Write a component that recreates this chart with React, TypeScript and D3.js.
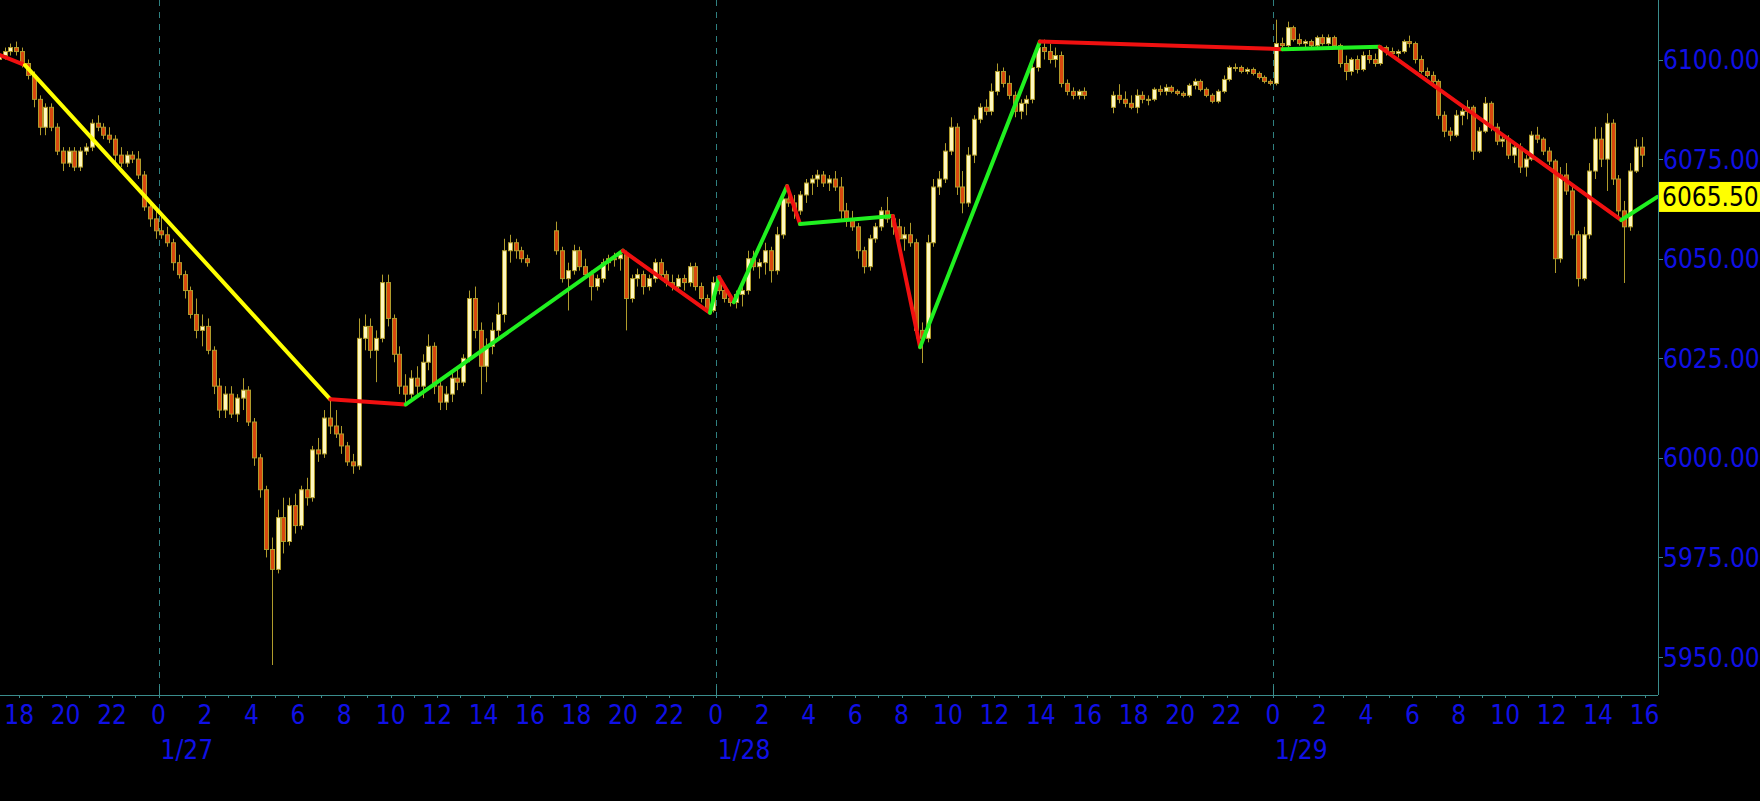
import React from 'react';
import * as d3 from 'd3';

type Bar = [number, number, number, number]; // open, high, low, close

// 15-minute bars, one array per trading session (CME hours, 17:00 - 16:00)
const sessionStarts = [
  new Date(2025, 0, 26, 17, 0),
  new Date(2025, 0, 27, 17, 0),
  new Date(2025, 0, 28, 17, 0),
];

const session1: Bar[] = [
  [6100, 6102, 6099, 6101], [6101, 6103, 6100, 6102], [6102, 6104, 6101, 6103], [6103, 6104.5, 6101, 6102],
  [6102, 6103, 6098, 6099], [6099, 6100, 6095, 6096], [6096, 6097, 6088, 6090], [6090, 6091, 6081, 6083],
  [6083, 6089, 6081, 6088], [6088, 6089, 6082, 6083], [6083, 6084, 6076, 6077], [6077, 6078, 6072, 6074],
  [6074, 6078, 6073, 6077], [6077, 6078, 6072, 6073], [6073, 6078, 6072, 6077], [6077, 6079, 6076, 6078],
  [6078, 6085, 6077, 6084], [6084, 6086, 6082, 6083], [6083, 6084, 6080, 6081], [6081, 6083, 6079, 6080],
  [6080, 6081, 6074, 6076], [6076, 6078, 6073, 6074], [6074, 6077, 6073, 6076], [6076, 6077, 6074, 6075],
  [6075, 6077, 6070, 6071], [6071, 6072, 6062, 6063], [6063, 6064, 6058, 6060], [6060, 6062, 6055, 6057],
  [6057, 6061, 6055, 6056], [6056, 6058, 6053, 6054], [6054, 6055, 6047, 6049], [6049, 6051, 6045, 6046],
  [6046, 6047, 6040, 6042], [6042, 6043, 6035, 6036], [6036, 6040, 6030, 6032], [6032, 6036, 6028, 6033],
  [6033, 6035, 6026, 6027], [6027, 6028, 6016, 6018], [6018, 6020, 6010, 6012], [6012, 6018, 6010, 6016],
  [6016, 6018, 6010, 6011], [6011, 6016, 6009, 6015], [6015, 6020, 6012, 6017], [6017, 6018, 6008, 6009],
  [6009, 6010, 5998, 6000], [6000, 6001, 5990, 5992], [5992, 5993, 5975, 5977], [5977, 5980, 5948, 5972],
  [5972, 5987, 5971, 5985], [5985, 5990, 5976, 5979], [5979, 5990, 5978, 5988], [5988, 5991, 5981, 5983],
  [5983, 5993, 5982, 5992], [5992, 5995, 5988, 5990], [5990, 6003, 5989, 6002], [6002, 6005, 5999, 6001],
  [6001, 6012, 6000, 6010], [6010, 6014.5, 6006, 6008], [6008, 6012, 6005, 6006], [6006, 6008, 6001, 6003],
  [6003, 6004, 5998, 5999], [5999, 6001, 5996, 5998], [5998, 6035, 5997, 6030], [6030, 6036, 6027, 6033],
  [6033, 6035, 6025, 6027], [6027, 6032, 6019, 6030], [6030, 6046, 6029, 6044], [6044, 6046, 6033, 6035],
  [6035, 6036, 6024, 6026], [6026, 6028, 6016, 6018], [6018, 6021, 6013.5, 6016], [6016, 6022, 6015, 6020],
  [6020, 6023, 6016, 6018], [6018, 6026, 6015, 6024], [6024, 6031, 6022, 6028], [6028, 6029, 6016, 6018],
  [6018, 6019, 6012, 6014], [6014, 6018, 6012, 6016], [6016, 6022, 6014, 6020], [6020, 6023, 6017, 6019],
  [6019, 6026, 6018, 6025], [6025, 6042, 6024, 6040], [6040, 6043, 6030, 6032], [6032, 6034, 6016, 6023],
  [6023, 6030, 6019, 6028], [6028, 6034, 6026, 6032], [6032, 6039, 6030, 6036], [6036, 6055, 6034, 6052],
  [6052, 6056, 6049, 6054], [6054, 6055, 6050, 6052], [6052, 6053, 6049, 6050], [6050, 6051, 6048, 6049],
];

const session2: Bar[] = [
  [6057, 6059.3, 6051, 6052], [6052, 6053, 6044, 6045], [6045, 6049, 6037, 6047], [6047, 6053.5, 6046, 6052],
  [6052, 6053, 6047, 6048], [6048, 6050, 6045, 6046], [6046, 6047, 6039.5, 6043], [6043, 6046, 6042, 6045],
  [6045, 6050, 6044, 6049], [6049, 6051, 6047, 6050], [6050, 6051.5, 6048, 6050], [6050, 6052, 6047, 6051],
  [6051, 6052, 6032, 6040], [6040, 6046, 6039, 6045], [6045, 6047.5, 6043, 6046], [6046, 6047, 6041, 6043],
  [6043, 6046, 6042, 6045], [6045, 6050, 6044, 6049], [6049, 6050, 6045, 6046], [6046, 6047, 6043, 6044],
  [6044, 6046, 6042, 6043], [6043, 6046, 6042, 6045], [6045, 6046, 6042, 6044], [6044, 6049, 6043, 6048],
  [6048, 6049, 6042, 6043], [6043, 6044, 6039, 6040], [6040, 6041, 6036.5, 6037], [6037, 6045.5, 6036.5, 6044],
  [6044, 6045, 6041, 6042], [6042, 6043, 6039, 6040], [6040, 6041, 6038, 6039], [6039, 6042, 6037.5, 6041],
  [6041, 6043, 6038, 6042], [6042, 6052, 6041, 6050], [6050, 6052, 6047, 6048], [6048, 6050, 6045, 6049],
  [6049, 6054, 6046, 6052], [6052, 6053, 6044, 6047], [6047, 6058, 6046, 6056], [6056, 6067, 6055, 6065],
  [6065, 6068, 6063, 6064], [6064, 6066, 6060, 6062], [6062, 6067, 6061, 6066], [6066, 6070, 6064, 6069],
  [6069, 6071, 6066, 6070], [6070, 6072.3, 6068, 6071], [6071, 6072, 6068, 6069], [6069, 6071, 6067, 6070],
  [6070, 6072, 6067, 6068], [6068, 6070.5, 6060, 6062], [6062, 6064, 6058, 6060], [6060, 6062, 6057, 6058],
  [6058, 6059, 6050, 6052], [6052, 6053, 6046.3, 6048], [6048, 6056, 6047, 6055], [6055, 6059, 6054, 6058],
  [6058, 6063, 6057, 6062], [6062, 6065.5, 6059, 6060], [6060, 6061, 6056, 6058], [6058, 6060, 6053, 6055],
  [6055, 6058, 6052, 6056], [6056, 6059, 6053, 6054], [6054, 6055, 6030, 6032], [6032, 6034, 6023.8, 6030],
  [6030, 6056, 6029, 6054], [6054, 6070, 6053, 6068], [6068, 6072, 6066, 6070], [6070, 6079, 6069, 6077],
  [6077, 6085.5, 6076, 6083], [6083, 6084, 6066, 6068], [6068, 6072, 6061.4, 6064], [6064, 6078, 6063, 6076],
  [6076, 6086, 6074, 6085], [6085, 6089, 6084, 6088], [6088, 6090, 6086, 6087], [6087, 6094, 6086, 6092],
  [6092, 6099, 6091, 6097], [6097, 6098, 6093, 6094], [6094, 6096, 6090, 6091], [6091, 6092, 6085.5, 6087],
  [6087, 6090, 6085, 6089], [6089, 6091, 6086, 6090], [6090, 6099, 6089, 6098], [6098, 6104.5, 6097, 6103],
  [6103, 6105, 6100, 6102], [6102, 6104, 6099, 6100], [6100, 6103, 6098, 6101], [6101, 6102, 6093, 6094],
  [6094, 6095, 6091, 6092], [6092, 6093, 6090, 6091], [6091, 6092.5, 6090, 6092], [6092, 6093, 6090, 6091],
];

const session3: Bar[] = [
  [6088, 6092, 6086.5, 6091], [6091, 6093.8, 6089, 6090], [6090, 6092, 6088, 6089], [6089, 6091, 6087.5, 6088],
  [6088, 6092.5, 6086.5, 6091], [6091, 6092, 6089, 6090], [6090, 6091, 6088.5, 6090], [6090, 6093, 6089.5, 6092.5],
  [6092.5, 6093.5, 6091, 6092], [6092, 6093.8, 6091, 6093], [6093, 6093.5, 6091.5, 6092], [6092, 6092.5, 6091, 6091.5],
  [6091.5, 6092, 6090.5, 6091], [6091, 6094, 6090.5, 6093.5], [6093.5, 6095.2, 6092.5, 6094.5], [6094.5, 6095, 6092, 6092.5],
  [6092.5, 6093, 6090.5, 6091], [6091, 6091.5, 6089, 6089.5], [6089.5, 6092.5, 6089, 6092], [6092, 6096, 6091.5, 6095],
  [6095, 6098.5, 6094.5, 6098], [6098, 6099, 6097, 6098], [6098, 6098.5, 6096.5, 6097], [6097, 6098, 6096.3, 6097.5],
  [6097.5, 6098, 6096, 6096.5], [6096.5, 6097, 6095, 6095.5], [6095.5, 6096, 6094, 6094.5], [6094.5, 6095, 6093.5, 6094],
  [6094, 6110, 6093.5, 6104], [6104, 6105.5, 6102.5, 6103.5], [6103.5, 6109.5, 6103, 6108], [6108, 6108.5, 6104.5, 6105],
  [6105, 6106.5, 6103.5, 6104], [6104, 6105, 6103, 6104.5], [6104.5, 6105, 6103, 6103.5], [6103.5, 6106, 6103, 6105.5],
  [6105.5, 6106.3, 6103.5, 6104], [6104, 6106.3, 6103.5, 6105.5], [6105.5, 6106, 6103, 6103.5], [6103.5, 6104, 6098, 6099],
  [6099, 6101, 6094.8, 6097], [6097, 6100.5, 6096, 6100], [6100, 6101, 6096.5, 6097.5], [6097.5, 6102, 6097, 6101],
  [6101, 6102.4, 6099, 6100], [6100, 6101.5, 6098.2, 6099], [6099, 6103.6, 6098.5, 6103], [6103, 6103.5, 6101, 6102],
  [6102, 6103, 6100.7, 6101.5], [6101.5, 6102.5, 6100.5, 6102], [6102, 6105, 6101.5, 6104.5], [6104.5, 6106, 6103, 6104],
  [6104, 6104.5, 6099, 6100], [6100, 6101, 6096.5, 6097], [6097, 6098, 6095.5, 6096], [6096, 6097, 6094, 6094.5],
  [6094.5, 6095, 6085, 6086], [6086, 6087, 6080.5, 6082], [6082, 6083, 6079.5, 6081], [6081, 6087.3, 6080.5, 6086],
  [6086, 6088, 6083.5, 6087], [6087, 6089.8, 6085, 6088], [6088, 6088.5, 6074.8, 6077], [6077, 6083, 6076.5, 6082],
  [6082, 6090.6, 6081.5, 6089], [6089, 6089.5, 6082, 6083], [6083, 6084, 6078.5, 6079.5], [6079.5, 6081.5, 6078, 6080],
  [6080, 6081, 6075, 6076], [6076, 6079, 6074, 6078], [6078, 6079, 6071.5, 6073], [6073, 6076, 6070.6, 6075],
  [6075, 6082, 6074.5, 6081], [6081, 6083.1, 6079, 6080], [6080, 6080.5, 6076, 6077], [6077, 6078, 6073.5, 6074.5],
  [6074.5, 6075, 6046.4, 6050], [6050, 6073, 6049, 6071], [6071, 6074, 6066, 6067], [6067, 6068, 6055, 6056],
  [6056, 6057, 6043, 6045], [6045, 6058, 6044.5, 6056], [6056, 6074, 6055, 6072], [6072, 6083.1, 6070, 6080],
  [6080, 6083, 6073, 6075], [6075, 6086.5, 6067, 6084], [6084, 6085, 6068.5, 6070], [6070, 6071, 6059.7, 6062],
  [6062, 6064.5, 6043.9, 6058], [6058, 6074, 6057, 6072], [6072, 6080, 6071.5, 6078], [6078, 6080.5, 6073, 6076],
];

const sessions = [session1, session2, session3];

// zigzag swing points: hours from 1/27 00:00 and price
const zigHours = [-7, -5.75, 7.4, 10.65, 20.0, 23.75, 24.14, 24.78, 27.07, 27.63, 31.63, 32.8, 37.96, 48.41, 52.6, 63.0, 64.55];
const zigPrices = [6101.5, 6098.6, 6014.7, 6013.4, 6052.0, 6036.4, 6045.4, 6039.1, 6068.2, 6058.7, 6060.7, 6027.8, 6104.5, 6102.6, 6103.2, 6059.7, 6065.5];
const zigColors = ['#f01010', '#ffff00', '#f01010', '#20f020', '#f01010', '#20f020', '#f01010', '#20f020',
  '#f01010', '#20f020', '#f01010', '#20f020', '#f01010', '#20f020', '#f01010', '#20f020'];

const priceTicks = [5950, 5975, 6000, 6025, 6050, 6075, 6100];
const lastPrice = 6065.5;

const W = 1760;
const H = 801;
const plotRight = 1658;
const plotBottom = 695;
const HOUR = 3600 * 1000;
const dayZero = new Date(2025, 0, 27, 0, 0);

const axisColor = '#3a8c8c';
const labelColor = '#1010e6';
const font = "'DejaVu Sans Condensed', 'DejaVu Sans', sans-serif";

export default function App() {
  const x = d3.scaleTime()
    .domain([new Date(2025, 0, 26, 17, 10, 24), new Date(2025, 0, 29, 16, 34, 48)])
    .range([0, plotRight]);
  const y = d3.scaleLinear().domain([5940.47, 6114.94]).range([plotBottom, 0]);

  const [t0, t1] = x.domain();
  const hours = d3.timeHour.every(1)!.range(t0, t1);
  const days = d3.timeDay.range(t0, t1);

  const bars = sessions.flatMap((s, si) =>
    s.map((b, i) => ({ t: new Date(+sessionStarts[si] + i * 15 * 60000 + 7.5 * 60000), o: b[0], h: b[1], l: b[2], c: b[3] }))
  );

  const zig = zigHours.map((h, i) => ({ t: new Date(+dayZero + h * HOUR), p: zigPrices[i] }));
  const line = d3.line<{ t: Date; p: number }>().x(d => x(d.t)).y(d => y(d.p));

  return (
    <svg width={W} height={H} style={{ position: 'fixed', left: 0, top: 0, background: '#000' }} fontFamily={font}>
      <rect width={W} height={H} fill="#000" />
      <defs>
        <clipPath id="plot"><rect x={0} y={0} width={plotRight} height={plotBottom} /></clipPath>
      </defs>

      {days.map(d => (
        <line key={'g' + +d} x1={Math.round(x(d)) + 0.5} x2={Math.round(x(d)) + 0.5} y1={0} y2={plotBottom} stroke="#2f8080" strokeDasharray="6,6" />
      ))}

      <g clipPath="url(#plot)">
        {bars.map((b, i) => {
          const cx = Math.round(x(b.t)) + 0.5;
          const up = b.c >= b.o;
          const top = y(Math.max(b.o, b.c));
          const hgt = Math.max(1, Math.abs(y(b.o) - y(b.c)));
          return (
            <g key={i}>
              <line x1={cx} x2={cx} y1={y(b.h)} y2={y(b.l)} stroke="#b09c2c" strokeWidth={1} />
              <rect x={cx - 2} y={top} width={4} height={hgt} fill={up ? '#fff8c0' : '#d8480e'} stroke="#b09c2c" strokeWidth={1} />
            </g>
          );
        })}
        {zig.slice(1).map((d, i) => (
          <path key={'z' + i} d={line([zig[i], d]) || ''} stroke={zigColors[i]} strokeWidth={4} fill="none" strokeLinecap="round" />
        ))}
      </g>

      <line x1={0} x2={plotRight} y1={plotBottom + 0.5} y2={plotBottom + 0.5} stroke={axisColor} />
      <line x1={plotRight + 0.5} x2={plotRight + 0.5} y1={0} y2={plotBottom} stroke={axisColor} />

      {hours.map(h => (
        <line key={'t' + +h} x1={Math.round(x(h)) + 0.5} x2={Math.round(x(h)) + 0.5} y1={plotBottom} y2={plotBottom + 3} stroke={axisColor} />
      ))}
      {days.map(d => (
        <line key={'dt' + +d} x1={Math.round(x(d)) + 0.5} x2={Math.round(x(d)) + 0.5} y1={plotBottom - 9} y2={plotBottom} stroke={axisColor} />
      ))}
      {hours.filter(h => h.getHours() % 2 === 0).map(h => (
        <text key={'l' + +h} x={x(h)} y={724} textAnchor="middle" fontSize={26} fill={labelColor} fontStretch="condensed">
          {h.getHours()}
        </text>
      ))}
      {days.map(d => (
        <text key={'dl' + +d} x={x(d) + 2} y={759} fontSize={26} fill={labelColor} fontStretch="condensed">
          {`${d.getMonth() + 1}/${d.getDate()}`}
        </text>
      ))}

      {priceTicks.map(p => (
        <g key={'p' + p}>
          <line x1={plotRight} x2={plotRight + 5} y1={Math.round(y(p)) + 0.5} y2={Math.round(y(p)) + 0.5} stroke={axisColor} />
          <text x={plotRight + 5} y={y(p) + 9.5} fontSize={26} fill={labelColor} fontStretch="condensed">{d3.format('.2f')(p)}</text>
        </g>
      ))}
      <rect x={plotRight + 1} y={y(lastPrice) - 15} width={W - plotRight} height={30} fill="#ffff00" />
      <text x={plotRight + 4} y={y(lastPrice) + 9.5} fontSize={26} fill="#000" fontStretch="condensed">{d3.format('.2f')(lastPrice)}</text>
    </svg>
  );
}
